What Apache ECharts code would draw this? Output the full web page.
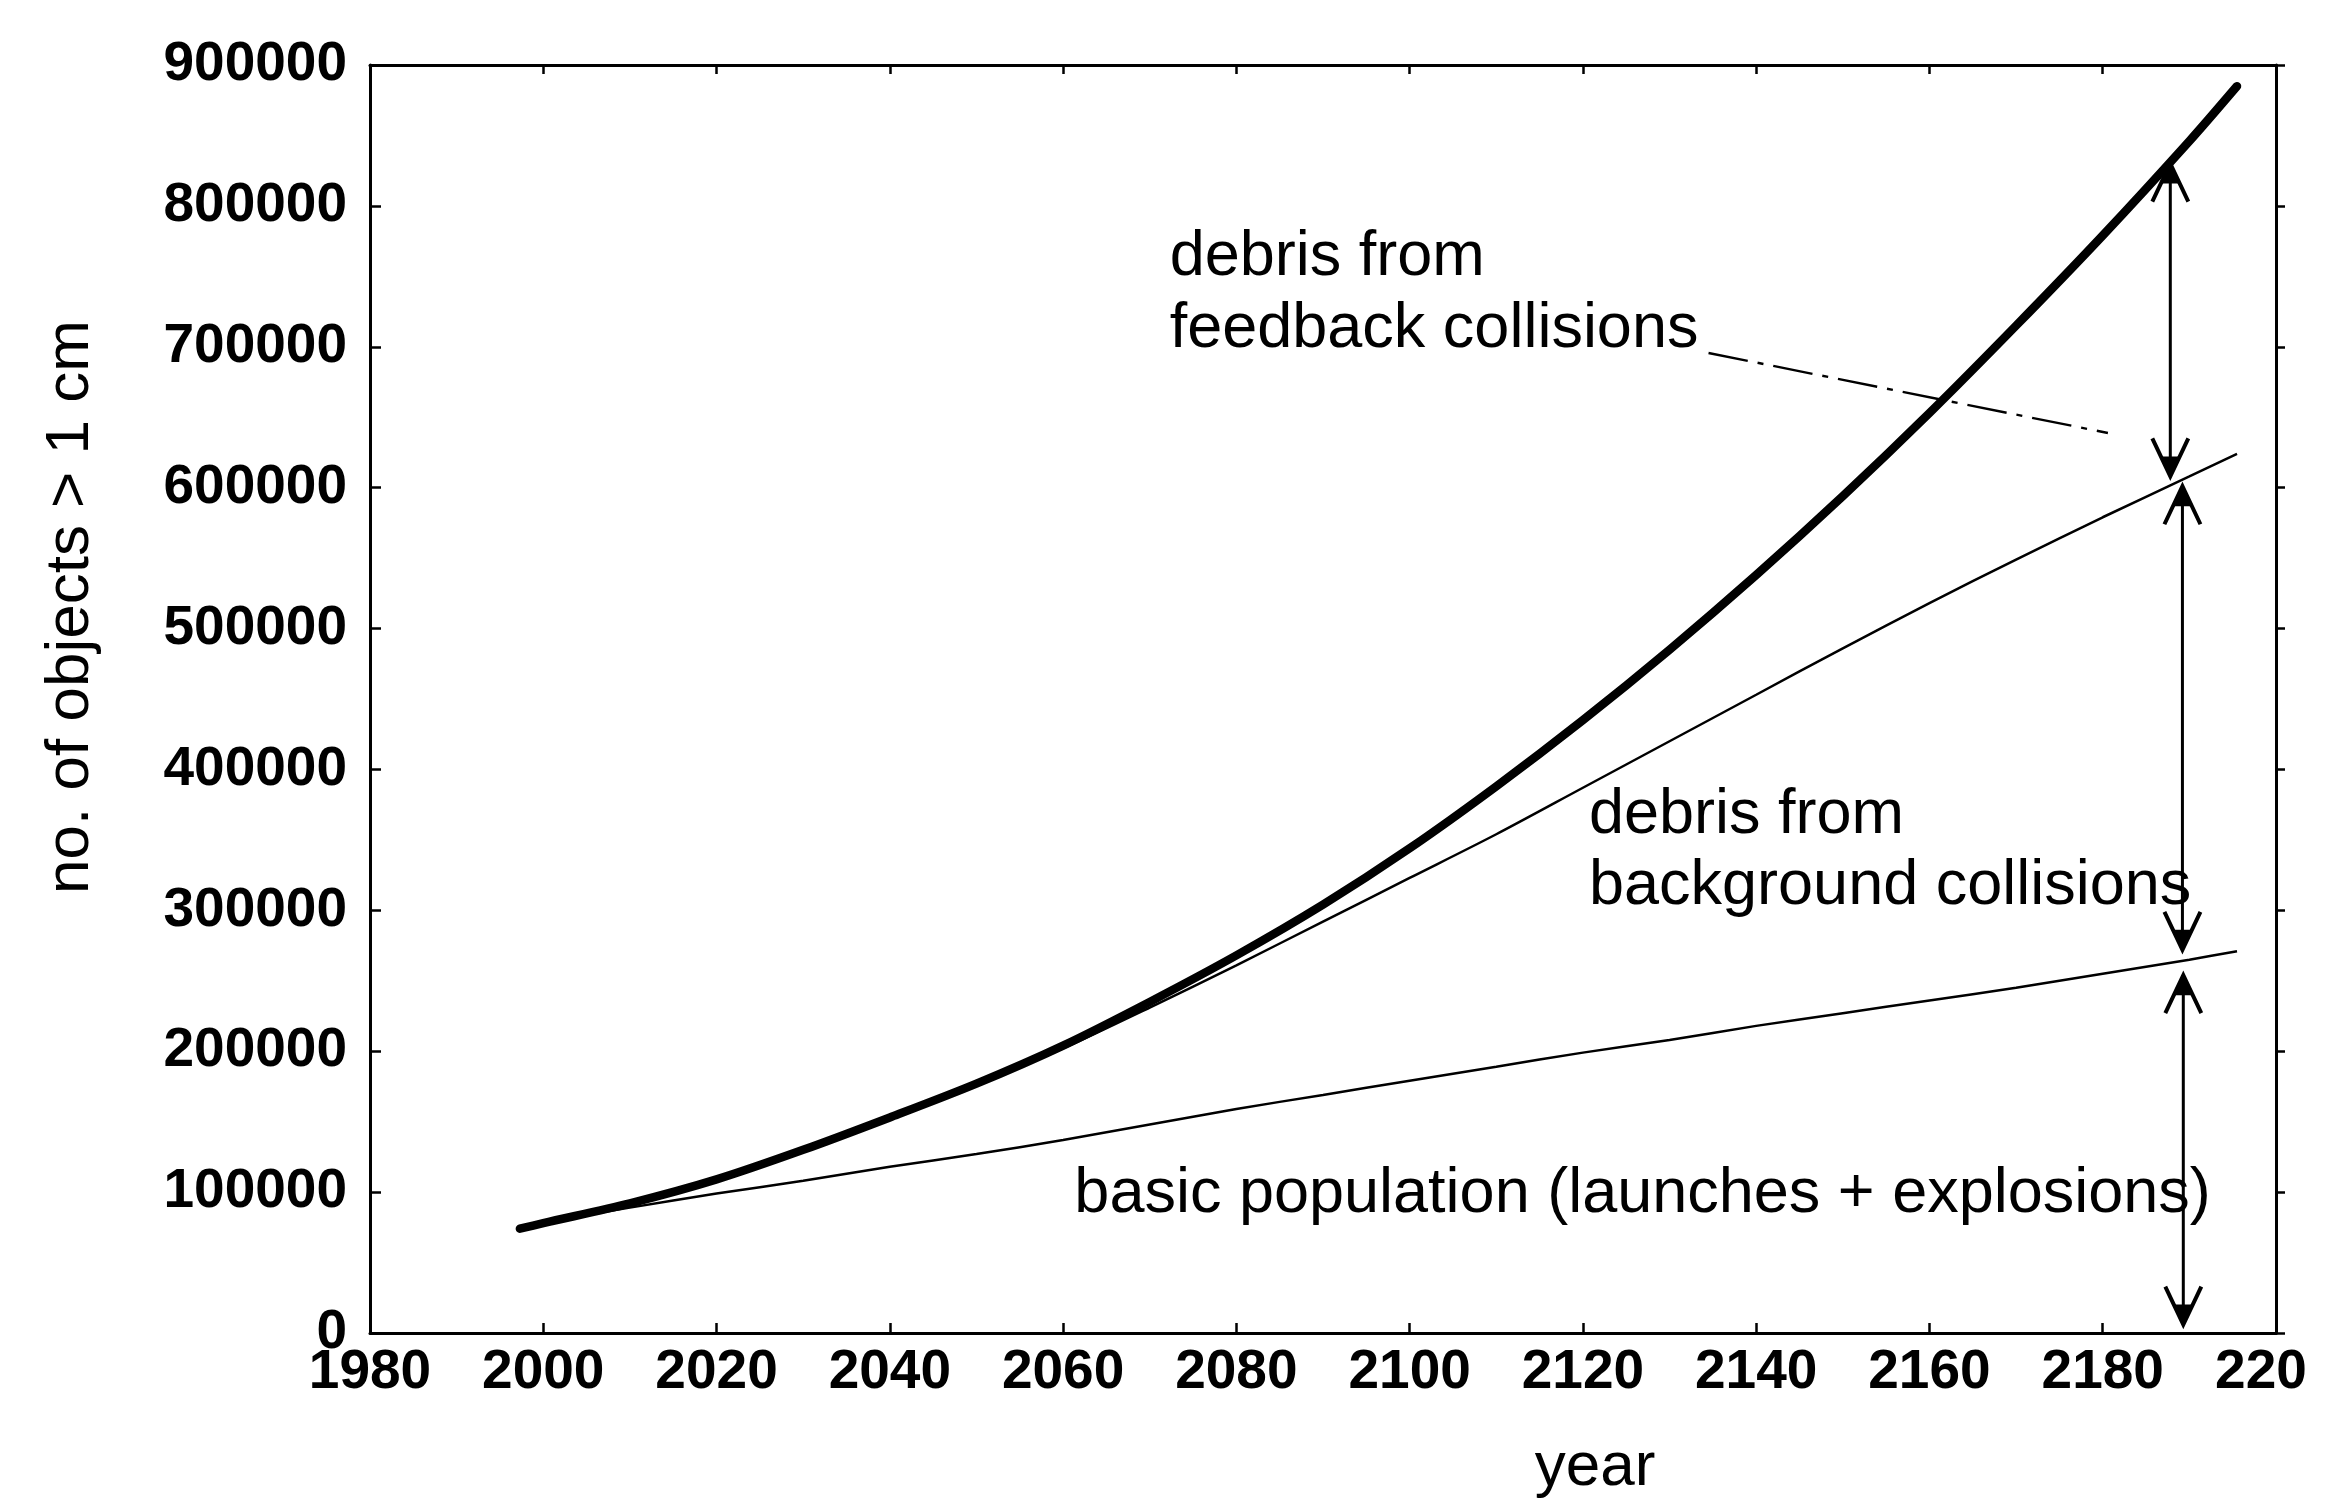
<!DOCTYPE html>
<html>
<head>
<meta charset="utf-8">
<title>Debris population growth</title>
<script src="https://cdn.jsdelivr.net/npm/echarts@6/dist/echarts.min.js"></script>
<style>
  html, body { margin: 0; padding: 0; background: #fff; }
  #chart { width: 2342px; height: 1498px; }
</style>
</head>
<body>
<div id="chart"></div>
<script>
// Projected number of objects larger than 1 cm, by year
const years = [1997.3, 2000, 2010, 2020, 2030, 2040, 2050, 2060, 2070, 2080, 2090,
               2100, 2110, 2120, 2130, 2140, 2150, 2160, 2170, 2180, 2190, 2195.5];

// total population incl. debris from feedback collisions
const totalPop = [74000, 78000, 92000, 109000, 130000, 153000, 177000, 204000, 235000, 268000, 304000,
                  344000, 388000, 435000, 485000, 538000, 594000, 653000, 715000, 779000, 846000, 885000];

// basic population plus debris from background collisions
const backgroundPop = [74000, 78000, 92000, 108000, 129000, 152000, 176000, 202000, 231000, 261000, 292000,
                       323000, 354000, 387000, 420000, 453000, 486000, 518000, 549000, 579000, 608000, 624000];

// basic population (launches + explosions)
const basicPop = [74000, 78000, 89000, 99000, 108000, 118000, 127000, 137000, 148000, 159000, 169000,
                  179000, 189000, 199000, 208000, 218000, 227000, 236000, 245000, 255000, 265000, 271000];

// double-headed arrows marking each contribution
const arrowYears = [2187.8, 2189.2, 2189.3];
const arrowFrom  = [608000, 272000, 6000];
const arrowTo    = [830000, 601000, 254000];

// leader from the feedback label towards its arrow
const leaderYears  = [2134.5, 2180.6];
const leaderValues = [695600, 638800];

const xTickLabels = ['1980', '2000', '2020', '2040', '2060', '2080', '2100',
                     '2120', '2140', '2160', '2180', '220'];
const yTickLabels = ['0', '100000', '200000', '300000', '400000', '500000',
                     '600000', '700000', '800000', '900000'];

const FONT = '"Liberation Sans", Arial, Helvetica, sans-serif';

const notes = [
  { at: [2072.3, 763000], text: 'debris from' },
  { at: [2072.3, 711900], text: 'feedback collisions' },
  { at: [2120.7, 366900], text: 'debris from' },
  { at: [2120.7, 316600], text: 'background collisions' },
  { at: [2061.3, 97900],  text: 'basic population (launches + explosions)' }
];

const zip = (xs, ys) => xs.map((x, i) => [x, ys[i]]);

const tickLabelStyle = { color: '#000', fontFamily: FONT, fontWeight: 'bold', fontSize: 55 };

const chart = echarts.init(document.getElementById('chart'), null, { renderer: 'canvas' });

const option = {
  backgroundColor: '#fff',
  animation: false,
  grid: { left: 370, right: 66, top: 65, bottom: 165 },
  xAxis: [
    {
      type: 'value', min: 1980, max: 2200, interval: 20, position: 'bottom',
      axisLine: { onZero: false, lineStyle: { color: '#000', width: 3 } },
      axisTick: { inside: true, length: 10, lineStyle: { color: '#000', width: 2.5 } },
      splitLine: { show: false },
      axisLabel: Object.assign({}, tickLabelStyle, {
        margin: 12,
        formatter: function (v) {
          const i = Math.round((v - 1980) / 20);
          const s = xTickLabels[i];
          return i === xTickLabels.length - 1 ? '{cut|' + s + '}' : s;
        },
        rich: { cut: Object.assign({}, tickLabelStyle, { padding: [0, 30, 0, 0] }) }
      })
    },
    {
      type: 'value', min: 1980, max: 2200, interval: 20, position: 'top',
      axisLine: { onZero: false, lineStyle: { color: '#000', width: 3 } },
      axisTick: { inside: true, length: 9, lineStyle: { color: '#000', width: 2.5 } },
      splitLine: { show: false },
      axisLabel: { show: false }
    }
  ],
  yAxis: [
    {
      type: 'value', min: 0, max: 900000, interval: 100000, position: 'left',
      axisLine: { onZero: false, lineStyle: { color: '#000', width: 3 } },
      axisTick: { inside: true, length: 11, lineStyle: { color: '#000', width: 2.5 } },
      splitLine: { show: false },
      axisLabel: Object.assign({}, tickLabelStyle, {
        margin: 23,
        padding: [0, 0, 20, 0],
        formatter: function (v) { return yTickLabels[Math.round(v / 100000)]; }
      })
    },
    {
      // frame on the right, its ticks sit between the left-hand ones
      type: 'value', min: -51000, max: 849000, interval: 100000, position: 'right',
      axisLine: { onZero: false, lineStyle: { color: '#000', width: 3 } },
      axisTick: { inside: false, length: 9, lineStyle: { color: '#000', width: 2.5 } },
      splitLine: { show: false },
      axisLabel: { show: false }
    }
  ],
  series: [
    {
      name: 'basic', type: 'line', data: zip(years, basicPop), showSymbol: false, symbol: 'none',
      smooth: 0.3, lineStyle: { color: '#000', width: 2.5 }, z: 3
    },
    {
      name: 'background', type: 'line', data: zip(years, backgroundPop), showSymbol: false, symbol: 'none',
      smooth: 0.3, lineStyle: { color: '#000', width: 2.5 }, z: 3
    },
    {
      name: 'total', type: 'line', data: zip(years, totalPop), showSymbol: false, symbol: 'none',
      smooth: 0.3, lineStyle: { color: '#000', width: 8.5, cap: 'round', join: 'round' }, z: 4
    },
    {
      name: 'leader', type: 'line', data: zip(leaderYears, leaderValues), showSymbol: false, symbol: 'none',
      lineStyle: { color: '#000', width: 2.4, type: [40, 10, 6, 10] }, z: 2
    },
    {
      name: 'arrows', type: 'custom', clip: false, z: 5,
      encode: { x: 0, y: [1, 2] },
      data: arrowYears.map((y, i) => [y, arrowFrom[i], arrowTo[i]]),
      renderItem: function (params, api) {
        const x = api.value(0);
        const a = api.coord([x, api.value(1)]);
        const b = api.coord([x, api.value(2)]);
        const head = function (p, dir) {
          // dir = 1 points up, dir = -1 points down
          return [
            { type: 'polyline',
              shape: { points: [[p[0] - 18, p[1] + 38 * dir], [p[0], p[1]], [p[0] + 18, p[1] + 38 * dir]] },
              style: { stroke: '#000', lineWidth: 4, fill: null, lineJoin: 'miter' } },
            { type: 'polygon',
              shape: { points: [[p[0], p[1]], [p[0] - 8, p[1] + 20 * dir], [p[0] + 8, p[1] + 20 * dir]] },
              style: { fill: '#000' } }
          ];
        };
        return {
          type: 'group',
          children: [
            { type: 'line', shape: { x1: a[0], y1: a[1], x2: b[0], y2: b[1] },
              style: { stroke: '#000', lineWidth: 3 } }
          ].concat(head(b, 1), head(a, -1))
        };
      }
    },
    {
      name: 'notes', type: 'custom', clip: false, z: 6,
      encode: { x: 0, y: 1 },
      data: notes.map(n => n.at),
      renderItem: function (params, api) {
        const p = api.coord([api.value(0), api.value(1)]);
        return {
          type: 'text', x: p[0], y: p[1],
          style: {
            text: notes[params.dataIndex].text,
            fill: '#000', fontFamily: FONT, fontSize: 63,
            align: 'left', verticalAlign: 'middle'
          }
        };
      }
    }
  ],
  graphic: [
    {
      type: 'text', x: 1595, y: 1468,
      style: { text: 'year', fill: '#000', fontFamily: FONT, fontSize: 62, align: 'center', verticalAlign: 'middle' }
    },
    {
      type: 'text', x: 71, y: 607, rotation: Math.PI / 2,
      style: { text: 'no. of objects > 1 cm', fill: '#000', fontFamily: FONT, fontSize: 62, align: 'center', verticalAlign: 'middle' }
    }
  ]
};

chart.setOption(option);
</script>
</body>
</html>
